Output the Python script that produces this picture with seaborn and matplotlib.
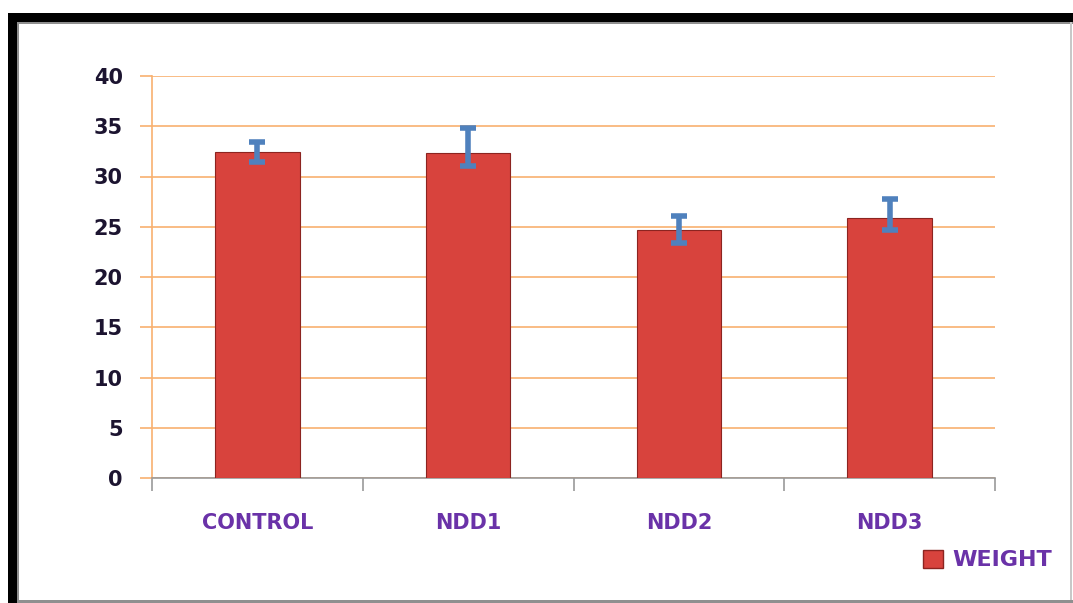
import numpy as np
import matplotlib
matplotlib.use('Agg')
import matplotlib.pyplot as plt
import seaborn as sns
from matplotlib.patches import Rectangle, Patch

# --- data ---
groups = ['CONTROL', 'NDD1', 'NDD2', 'NDD3']
weight = [32.4, 32.3, 24.7, 25.9]
err_low = [1.0, 1.3, 1.3, 1.2]
err_high = [1.0, 2.5, 1.4, 1.9]
yticks = [0, 5, 10, 15, 20, 25, 30, 35, 40]

bar_red = '#d8433d'
err_blue = '#4f81bd'
grid_orange = '#f8b070'
label_purple = '#6a32a8'
tick_dark = '#1c1430'

sns.set_style('white')
plt.rcParams['font.family'] = ['DejaVu Sans']

fig = plt.figure(figsize=(10.73, 6.03), dpi=100)
ax = fig.add_axes([152 / 1073, 1 - 478 / 603, (995 - 152) / 1073, (478 - 76) / 603])

sns.barplot(x=groups, y=weight, color=bar_red, saturation=1, width=0.4, ax=ax,
            edgecolor='#8c2420', linewidth=0.8, zorder=3)
ax.errorbar(np.arange(len(groups)), weight, yerr=[err_low, err_high],
            fmt='none', ecolor=err_blue, elinewidth=4, capsize=6, capthick=4, zorder=4)

ax.set_xlim(-0.5, 3.5)
ax.set_ylim(0, 40)
ax.set_yticks(yticks)
ax.yaxis.grid(True, color=grid_orange, linewidth=1.2, zorder=0)
ax.set_axisbelow(True)

for side in ['top', 'right']:
    ax.spines[side].set_visible(False)
ax.spines['left'].set_color(grid_orange)
ax.spines['left'].set_linewidth(1.2)
ax.spines['bottom'].set_color('#9a9a9a')
ax.spines['bottom'].set_linewidth(1.2)

ax.tick_params(axis='y', direction='out', length=9, width=1.2, color=grid_orange,
               pad=12, labelsize=15, labelcolor=tick_dark, left=True)
ax.set_xticks(np.arange(-0.5, 4.0, 1.0), minor=True)
ax.tick_params(axis='x', which='minor', direction='out', length=9, width=1.2,
               color='#9a9a9a', bottom=True)
ax.tick_params(axis='x', which='major', length=0, pad=25, labelsize=15,
               labelcolor=label_purple)
for lab in ax.get_yticklabels() + ax.get_xticklabels():
    lab.set_fontweight('bold')
ax.set_xlabel('')
ax.set_ylabel('')

# legend in the lower right corner
leg = fig.legend(handles=[Patch(facecolor=bar_red, edgecolor='#8c2420', label='WEIGHT')],
                 loc='center left', bbox_to_anchor=(903 / 1073, 1 - 560 / 603),
                 frameon=False, handlelength=0.9, handleheight=0.9, handletextpad=0.4,
                 prop={'weight': 'bold', 'size': 16})
for t in leg.get_texts():
    t.set_color(label_purple)

# frame around the chart
W, H = 1073, 603
def px_rect(x0, y0, w, h, color):
    fig.add_artist(Rectangle((x0 / W, 1 - (y0 + h) / H), w / W, h / H,
                             transform=fig.transFigure, facecolor=color,
                             edgecolor='none', zorder=10))

px_rect(8, 13, W - 8, 9, 'black')
px_rect(8, 13, 9, H - 13, 'black')
px_rect(17, 22, W - 17, 2, '#8f8f8f')
px_rect(17, 22, 2, H - 22, '#8f8f8f')
px_rect(W - 3, 22, 2, H - 22, '#c8c8c8')
px_rect(17, H - 3, W - 17, 3, '#8f8f8f')

fig.savefig('out.png', dpi=100)
